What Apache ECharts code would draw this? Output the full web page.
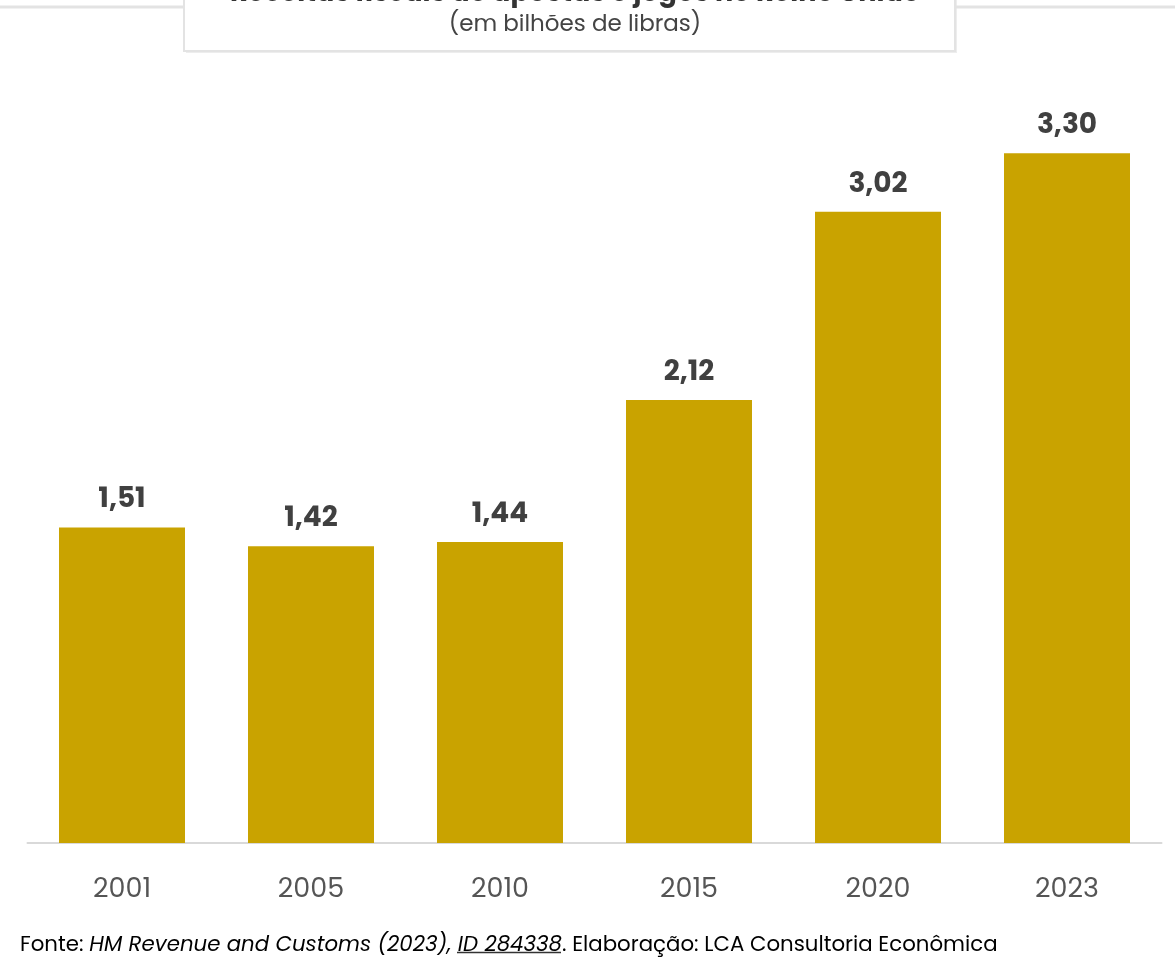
<!DOCTYPE html>
<html><head><meta charset="utf-8">
<script src="https://cdn.jsdelivr.net/npm/echarts@6/dist/echarts.min.js"></script>
<style>html,body{margin:0;padding:0;background:#fff}#c{width:1175px;height:963px}</style>
</head><body><div id="c"></div>
<script>
const categories = ['2001','2005','2010','2015','2020','2023'];
const values = [1.51, 1.42, 1.44, 2.12, 3.02, 3.30];
const titleText = 'Receitas fiscais de apostas e jogos no Reino Unido';
const subtitleText = '(em bilhões de libras)';
const FONT = 'Poppins, Inter, "Noto Sans", sans-serif';

const chart = echarts.init(document.getElementById('c'), null, {renderer:'canvas'});
chart.setOption({
  backgroundColor:'#fff',
  animation:false,
  title:{
    text:titleText,
    subtext:subtitleText,
    top:-24,
    left:570, textAlign:'center',
    itemGap:6,
    textStyle:{fontFamily:FONT,fontSize:27,fontWeight:'bold',color:'#333'},
    subtextStyle:{fontFamily:FONT,fontSize:23,color:'#444'}
  },
  graphic:[
    {type:'line',shape:{x1:0,y1:7,x2:184,y2:7},style:{stroke:'#e3e3e3',lineWidth:3},z:1},
    {type:'line',shape:{x1:955,y1:7,x2:1175,y2:7},style:{stroke:'#e3e3e3',lineWidth:3},z:1},
    {type:'rect',shape:{x:186,y:-10,width:771,height:63},style:{fill:'#ededed'},z:-2},
    {type:'rect',shape:{x:184,y:-10,width:771,height:61},style:{fill:'#fff',stroke:'#e3e3e3',lineWidth:2},z:-1},
    {type:'text',left:20,top:935,style:{
      text:'{n|Fonte: }{i|HM Revenue and Customs (2023), }{i|ID 284338}{n|. Elaboração: LCA Consultoria Econômica}',
      rich:{
        n:{fontFamily:FONT,fontSize:21.3,color:'#333'},
        i:{fontFamily:FONT,fontSize:21.3,color:'#333',fontStyle:'italic'}
      }
    }},
    {type:'line',shape:{x1:457,y1:952.5,x2:561,y2:952.5},style:{stroke:'#333',lineWidth:1.3}}
  ],
  grid:{left:27.5,right:13.5,top:7,bottom:120,containLabel:false},
  xAxis:{
    type:'category',data:categories,
    axisLine:{lineStyle:{color:'#d9d9d9',width:2}},
    axisTick:{show:false},
    axisLabel:{fontFamily:FONT,fontSize:27,color:'#555',margin:34}
  },
  yAxis:{type:'value',min:0,max:4,show:false,splitLine:{show:false}},
  series:[{
    type:'bar',data:values,barWidth:126,
    itemStyle:{color:'#C9A300'},
    label:{show:true,position:'top',distance:13,
      formatter:p=>p.value.toFixed(2).replace('.',','),
      fontFamily:FONT,fontSize:28,fontWeight:'bold',color:'#404040'}
  }]
});
</script></body></html>
